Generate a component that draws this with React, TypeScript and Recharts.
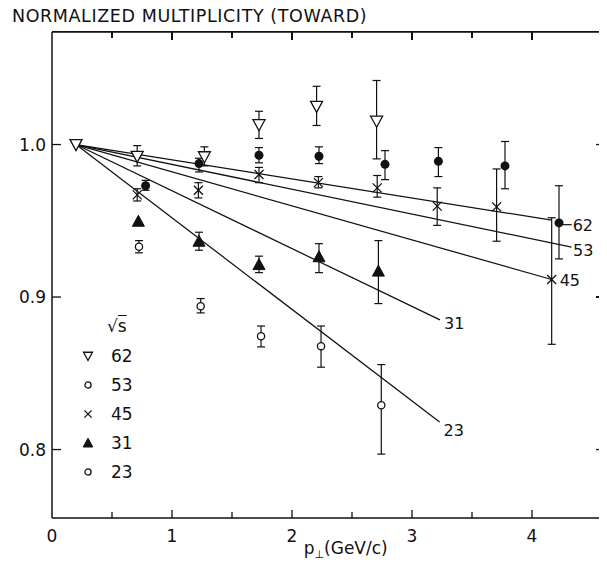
import React from 'react';
import { ComposedChart, Scatter, XAxis, YAxis, ErrorBar, Legend } from 'recharts';

// ---- data ----
const S62_X = [0.71, 1.27, 1.725, 2.205, 2.705];
const S62_Y = [0.9923, 0.992, 1.013, 1.025, 1.0153];
const S62_LO = [0.986, 0.986, 1.004, 1.0125, 0.9906];
const S62_HI = [0.9993, 0.9985, 1.0218, 1.0382, 1.042];

const S53_X = [0.78, 1.225, 1.725, 2.225, 2.775, 3.22, 3.775, 4.225];
const S53_Y = [0.973, 0.9875, 0.993, 0.9923, 0.987, 0.989, 0.986, 0.9486];
const S53_LO = [0.970, 0.982, 0.988, 0.9875, 0.977, 0.979, 0.971, 0.925];
const S53_HI = [0.9765, 0.991, 0.998, 0.9985, 0.996, 0.998, 1.002, 0.973];

const S45_X = [0.71, 1.22, 1.725, 2.22, 2.71, 3.21, 3.705, 4.164];
const S45_Y = [0.967, 0.970, 0.9803, 0.975, 0.9716, 0.9596, 0.9591, 0.9115];
const S45_LO = [0.963, 0.965, 0.975, 0.9716, 0.9655, 0.947, 0.9366, 0.869];
const S45_HI = [0.971, 0.975, 0.985, 0.979, 0.9797, 0.9716, 0.984, 0.952];

const S31_X = [0.72, 1.225, 1.725, 2.225, 2.72];
const S31_Y = [0.9497, 0.9366, 0.9213, 0.9264, 0.917];
const S31_LO = [0.9497, 0.9307, 0.916, 0.916, 0.8957];
const S31_HI = [0.9497, 0.9425, 0.9268, 0.935, 0.937];

const S23_X = [0.725, 1.239, 1.742, 2.242, 2.744];
const S23_Y = [0.933, 0.894, 0.8743, 0.8678, 0.829];
const S23_LO = [0.929, 0.8896, 0.8673, 0.854, 0.797];
const S23_HI = [0.937, 0.899, 0.881, 0.881, 0.8557];

const ORIGIN_X = [0.2];
const ORIGIN_Y = [1.0];

const FIT_NAMES = ['62', '53', '45', '31', '23'];
const FIT_END_X = [4.164, 4.33, 4.164, 3.233, 3.23];
const FIT_END_Y = [0.9504, 0.9328, 0.9115, 0.885, 0.818];

const LEGEND_ORDER = ['62', '53', '45', '31', '23'];

const X_TICKS = [0, 0.5, 1, 1.5, 2, 2.5, 3, 3.5, 4];
const Y_TICKS = [0.8, 0.9, 1.0];
const X_DOMAIN = [0, 4.575];
const Y_DOMAIN = [0.7551, 1.0738];

const TITLE = 'NORMALIZED MULTIPLICITY (TOWARD)';
const LEGEND_TITLE = 's';
const X_LABEL_MAIN = 'p';
const X_LABEL_SUB = '⊥';
const X_LABEL_UNIT = '(GeV/c)';

// ---- layout ----
const CHART_W = 599;
const CHART_H = 557;
const MARGIN = { top: 24, right: 6, bottom: 17, left: 0 };
const Y_AXIS_W = 44;
const X_AXIS_H = 30;
const PLOT_W = CHART_W - MARGIN.left - MARGIN.right - Y_AXIS_W;
const PLOT_H = CHART_H - MARGIN.top - MARGIN.bottom - X_AXIS_H;
const PLOT_L = MARGIN.left + Y_AXIS_W;

// ---- helpers ----
const build = (xs: number[], ys: number[], lo: number[], hi: number[]) =>
  xs.map((x, i) => ({
    x,
    y: ys[i],
    err: lo[i] === hi[i] ? null : [ys[i] - lo[i], hi[i] - ys[i]],
  }));

const FONT = "'DejaVu Sans', sans-serif";
const INK = '#111';

const isMajor = (v: number) => Math.abs(v - Math.round(v)) < 1e-6;

type Kind = 'tri-down' | 'dot' | 'cross' | 'tri-up' | 'circle';

const Marker = ({ kind, cx, cy, s = 1 }: { kind: Kind; cx: number; cy: number; s?: number }) => {
  switch (kind) {
    case 'tri-down':
      return (
        <polygon
          points={`${cx - 6 * s},${cy - 5 * s} ${cx + 6 * s},${cy - 5 * s} ${cx},${cy + 6 * s}`}
          fill="#fff" stroke={INK} strokeWidth={1.3}
        />
      );
    case 'dot':
      return <circle cx={cx} cy={cy} r={4.5 * s} fill={INK} />;
    case 'cross':
      return (
        <g stroke={INK} strokeWidth={1.3}>
          <line x1={cx - 4.5 * s} y1={cy - 4.5 * s} x2={cx + 4.5 * s} y2={cy + 4.5 * s} />
          <line x1={cx - 4.5 * s} y1={cy + 4.5 * s} x2={cx + 4.5 * s} y2={cy - 4.5 * s} />
        </g>
      );
    case 'tri-up':
      return (
        <polygon
          points={`${cx - 6 * s},${cy + 5 * s} ${cx + 6 * s},${cy + 5 * s} ${cx},${cy - 6 * s}`}
          fill={INK} stroke={INK} strokeWidth={1}
        />
      );
    default:
      return <circle cx={cx} cy={cy} r={3.6 * s} fill="#fff" stroke={INK} strokeWidth={1.3} />;
  }
};

const shapeOf = (kind: Kind) => (p: any) => <Marker kind={kind} cx={p.cx} cy={p.cy} />;

// label placement relative to the end of each fitted line
const LABEL_STYLE: Record<string, { dx: number; dy: number; dash?: [number, number, number] }> = {
  '62': { dx: 21, dy: 11, dash: [11, 20, 4.5] },
  '53': { dx: 1.5, dy: 9 },
  '45': { dx: 8, dy: 6.5 },
  '31': { dx: 4, dy: 9 },
  '23': { dx: 4, dy: 14 },
};

const fitShape = (p: any) => {
  const lab = p.payload && p.payload.label;
  if (!lab) return <g />;
  const st = LABEL_STYLE[lab];
  return (
    <g>
      {st.dash && (
        <line x1={p.cx + st.dash[0]} x2={p.cx + st.dash[1]} y1={p.cy + st.dash[2]} y2={p.cy + st.dash[2]} stroke={INK} strokeWidth={1.2} />
      )}
      <text x={p.cx + st.dx} y={p.cy + st.dy} fontFamily={FONT} fontSize={16} fill={INK}>{lab}</text>
    </g>
  );
};

// bottom ticks (inward) + frame's top/right sides with mirrored top ticks
const BottomTick = (p: any) => {
  const v = p.payload.value;
  const major = isMajor(v);
  const len = major ? 8 : 6;
  const top = p.y - PLOT_H;
  return (
    <g>
      {v === X_TICKS[0] && (
        <path d={`M${p.x},${top}H${p.x + PLOT_W}V${p.y}`} fill="none" stroke={INK} strokeWidth={1.5} />
      )}
      {v > 0 && <line x1={p.x} x2={p.x} y1={p.y} y2={p.y - len} stroke={INK} strokeWidth={1.3} />}
      {v > 0 && <line x1={p.x} x2={p.x} y1={top} y2={top + len} stroke={INK} strokeWidth={1.3} />}
      {major && (
        <text x={p.x} y={p.y + 24} textAnchor="middle" fontFamily={FONT} fontSize={17} fill={INK}>{v}</text>
      )}
    </g>
  );
};

// left ticks (inward) with labels + short ticks on the right side of the frame
const LeftTick = (p: any) => (
  <g>
    <line x1={p.x} x2={p.x + 9} y1={p.y} y2={p.y} stroke={INK} strokeWidth={1.3} />
    <line x1={p.x + PLOT_W} x2={p.x + PLOT_W - 5} y1={p.y} y2={p.y} stroke={INK} strokeWidth={1.3} />
    <text x={p.x - 6} y={p.y + 6} textAnchor="end" fontFamily={FONT} fontSize={17} fill={INK}>
      {Number(p.payload.value).toFixed(1)}
    </text>
  </g>
);

const XLabel = (p: any) => {
  const vb = p.viewBox || {};
  const x = vb.x + vb.width * 0.535;
  const y = vb.y + 36;
  return (
    <text x={x} y={y} textAnchor="middle" fontFamily={FONT} fontSize={17} fill={INK}>
      {X_LABEL_MAIN}
      <tspan dy={4} fontSize={11}>{X_LABEL_SUB}</tspan>
      <tspan dy={-4} fontSize={17}>{X_LABEL_UNIT}</tspan>
    </text>
  );
};

const KIND_BY_NAME: Record<string, Kind> = {
  '62': 'tri-down', '53': 'circle', '45': 'cross', '31': 'tri-up', '23': 'circle',
};
const LEGEND_SCALE: Record<string, number> = { '62': 0.75, '53': 0.85, '45': 0.8, '31': 0.8, '23': 0.85 };

const LegendContent = (props: any) => {
  const names = (props.payload || []).map((e: any) => e.value);
  const items = LEGEND_ORDER.filter((n) => names.includes(n));
  return (
    <div style={{ fontFamily: FONT, fontSize: 17, color: INK }}>
      <div style={{ height: 29, lineHeight: '29px', paddingLeft: 27 }}>
        <span>√</span>
        <span style={{ textDecoration: 'overline' }}>{LEGEND_TITLE}</span>
      </div>
      {items.map((n) => (
        <div key={n} style={{ height: 29, display: 'flex', alignItems: 'center' }}>
          <svg width={16} height={16} style={{ display: 'block' }}>
            <Marker kind={KIND_BY_NAME[n]} cx={8} cy={8} s={LEGEND_SCALE[n]} />
          </svg>
          <span style={{ marginLeft: 15 }}>{n}</span>
        </div>
      ))}
    </div>
  );
};

// HTML overlay for the top/right sides of the plot frame (same geometry as the plot area)
const FrameOverlay = () => {
  const fx = (v: number) => PLOT_L + ((v - X_DOMAIN[0]) / (X_DOMAIN[1] - X_DOMAIN[0])) * PLOT_W;
  const fy = (v: number) => MARGIN.top + ((Y_DOMAIN[1] - v) / (Y_DOMAIN[1] - Y_DOMAIN[0])) * PLOT_H;
  return (
    <div style={{ position: 'absolute', left: 0, top: 0, width: CHART_W, height: CHART_H, pointerEvents: 'none', zIndex: 1 }}>
      <div
        style={{
          position: 'absolute', left: PLOT_L, top: MARGIN.top - 0.75, width: PLOT_W + 0.75, height: PLOT_H + 0.75,
          boxSizing: 'border-box', borderTop: `1.5px solid ${INK}`, borderRight: `1.5px solid ${INK}`,
        }}
      />
      {X_TICKS.filter((v) => v > 0).map((v) => (
        <div
          key={'tt' + v}
          style={{
            position: 'absolute', left: fx(v) - 0.65, top: MARGIN.top, width: 1.3,
            height: isMajor(v) ? 8 : 6, background: INK,
          }}
        />
      ))}
      {Y_TICKS.map((v) => (
        <div
          key={'rt' + v}
          style={{
            position: 'absolute', left: PLOT_L + PLOT_W - 5, top: fy(v) - 0.65, width: 5,
            height: 1.3, background: INK,
          }}
        />
      ))}
    </div>
  );
};

export default function App() {
  const d62 = build(S62_X, S62_Y, S62_LO, S62_HI);
  const d53 = build(S53_X, S53_Y, S53_LO, S53_HI);
  const d45 = build(S45_X, S45_Y, S45_LO, S45_HI);
  const d31 = build(S31_X, S31_Y, S31_LO, S31_HI);
  const d23 = build(S23_X, S23_Y, S23_LO, S23_HI);
  const origin = ORIGIN_X.map((x, i) => ({ x, y: ORIGIN_Y[i] }));
  const fits = FIT_NAMES.map((name, i) => ({
    name,
    data: [
      { x: ORIGIN_X[0], y: ORIGIN_Y[0] },
      { x: FIT_END_X[i], y: FIT_END_Y[i], label: name },
    ],
  }));
  const axisLine = { stroke: INK, strokeWidth: 1.5 };

  return (
    <div style={{ position: 'relative', width: CHART_W, height: CHART_H, background: '#fff' }}>
      <div
        style={{
          position: 'absolute', left: 4, top: -2, fontFamily: FONT, fontSize: 17.5,
          letterSpacing: 0.6, color: INK, whiteSpace: 'nowrap', zIndex: 2,
        }}
      >
        {TITLE}
      </div>
      <ComposedChart width={CHART_W} height={CHART_H} margin={MARGIN}>
        <XAxis
          type="number" dataKey="x" domain={X_DOMAIN} allowDataOverflow ticks={X_TICKS} interval={0}
          height={X_AXIS_H} tickSize={0} tickMargin={0} tickLine={false} tick={BottomTick}
          axisLine={axisLine} label={XLabel}
        />
        <YAxis
          type="number" dataKey="y" domain={Y_DOMAIN} allowDataOverflow ticks={Y_TICKS} interval={0}
          width={Y_AXIS_W} tickSize={0} tickMargin={0} tickLine={false} tick={LeftTick}
          axisLine={axisLine}
        />

        {fits.map((f) => (
          <Scatter
            key={'fit' + f.name} name={'fit' + f.name} data={f.data} legendType="none"
            line={{ stroke: INK, strokeWidth: 1.25 }} lineType="joint" shape={fitShape}
            isAnimationActive={false}
          />
        ))}

        <Scatter name="62" data={d62} shape={shapeOf('tri-down')} isAnimationActive={false}>
          <ErrorBar dataKey="err" direction="y" width={4} stroke={INK} strokeWidth={1.2} />
        </Scatter>
        <Scatter name="53" data={d53} shape={shapeOf('dot')} isAnimationActive={false}>
          <ErrorBar dataKey="err" direction="y" width={4} stroke={INK} strokeWidth={1.2} />
        </Scatter>
        <Scatter name="45" data={d45} shape={shapeOf('cross')} isAnimationActive={false}>
          <ErrorBar dataKey="err" direction="y" width={4} stroke={INK} strokeWidth={1.2} />
        </Scatter>
        <Scatter name="31" data={d31} shape={shapeOf('tri-up')} isAnimationActive={false}>
          <ErrorBar dataKey="err" direction="y" width={4} stroke={INK} strokeWidth={1.2} />
        </Scatter>
        <Scatter name="23" data={d23} shape={shapeOf('circle')} isAnimationActive={false}>
          <ErrorBar dataKey="err" direction="y" width={4} stroke={INK} strokeWidth={1.2} />
        </Scatter>
        <Scatter
          name="origin" data={origin} legendType="none"
          shape={shapeOf('tri-down')} isAnimationActive={false}
        />

        <Legend
          layout="vertical" align="center" verticalAlign="middle" content={LegendContent}
          wrapperStyle={{ position: 'absolute', left: 72, top: 304, width: 90, height: 'auto' }}
        />
      </ComposedChart>
      <FrameOverlay />
    </div>
  );
}
